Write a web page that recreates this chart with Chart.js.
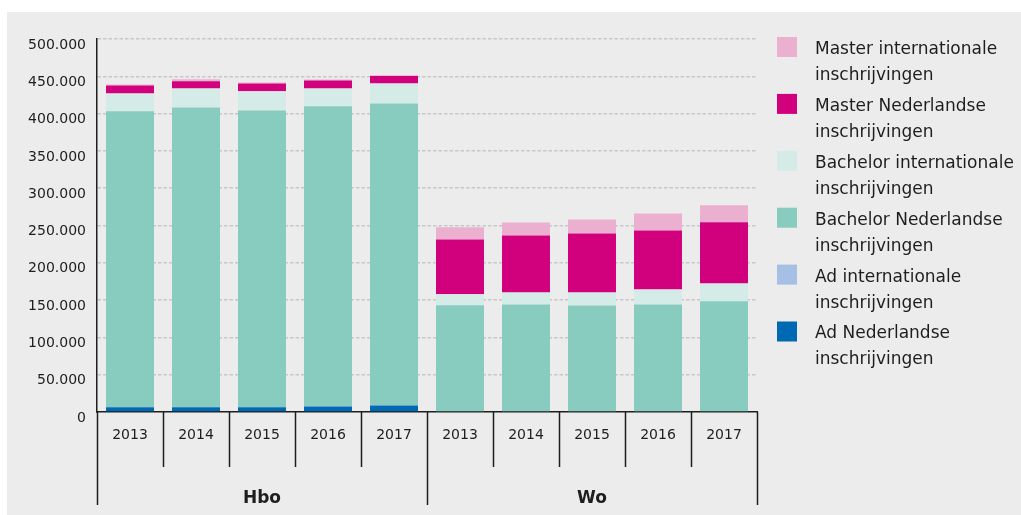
<!DOCTYPE html>
<html>
<head>
<meta charset="utf-8">
<script src="https://cdn.jsdelivr.net/npm/chart.js@4.4.1/dist/chart.umd.min.js"></script>
<style>
  html, body { margin: 0; padding: 0; background: #ffffff; }
  #wrap { position: relative; width: 1021px; height: 515px; }
</style>
</head>
<body>
<div id="wrap"><canvas id="chart" width="1021" height="515"></canvas></div>
<script>
// categories: year per bar, grouped by education type
const years = ['2013', '2014', '2015', '2016', '2017', '2013', '2014', '2015', '2016', '2017'];
const groups = ['Hbo', 'Wo'];

// series, bottom of the stack first
const adNL = [6300, 6300, 6300, 7500, 8800, 0, 0, 0, 0, 0];
const adIntl = [200, 200, 200, 200, 200, 0, 0, 0, 0, 0];
const bachelorNL = [396500, 401800, 397800, 402000, 404700, 143000, 144200, 142900, 144200, 148300];
const bachelorIntl = [24000, 25500, 25500, 24000, 26800, 14700, 16100, 17400, 20100, 24100];
const masterNL = [10700, 9400, 10700, 10700, 9800, 73700, 76400, 79000, 79000, 81800];
const masterIntl = [1300, 2700, 1300, 1300, 1000, 16100, 17400, 18800, 22800, 22800];

const seriesNames = [
  'Ad Nederlandse inschrijvingen',
  'Ad internationale inschrijvingen',
  'Bachelor Nederlandse inschrijvingen',
  'Bachelor internationale inschrijvingen',
  'Master Nederlandse inschrijvingen',
  'Master internationale inschrijvingen'
];
const seriesColors = ['#0069b4', '#a6bfe4', '#88cbbf', '#d5ebe7', '#d1007d', '#ebb0d0'];
const seriesData = [adNL, adIntl, bachelorNL, bachelorIntl, masterNL, masterIntl];

const yTicks = [0, 50000, 100000, 150000, 200000, 250000, 300000, 350000, 400000, 450000, 500000];

const FONT = "'DejaVu Sans', sans-serif";
const INK = '#1e1e1e';

function fmt(v) {
  return String(v).replace(/\B(?=(\d{3})+(?!\d))/g, '.');
}

const background = {
  id: 'background',
  beforeDraw(chart) {
    const ctx = chart.ctx;
    ctx.save();
    ctx.fillStyle = '#ececec';
    ctx.fillRect(7, 12, chart.width - 7, chart.height - 12);
    ctx.restore();
  }
};

// vertical separators under the x axis, placed from the category scale
const separators = {
  id: 'separators',
  afterDraw(chart) {
    const x = chart.scales.x;
    const ctx = chart.ctx;
    ctx.save();
    ctx.strokeStyle = INK;
    ctx.lineWidth = 1.5;
    for (let i = 0; i <= years.length; i++) {
      const px = Math.round(x.getPixelForValue(i - 0.5)) + 0.5;
      const long = i % 5 === 0;
      ctx.beginPath();
      ctx.moveTo(px, x.top);
      ctx.lineTo(px, x.top + (long ? 93 : 55));
      ctx.stroke();
    }
    ctx.restore();
  }
};

// legend on the right, two lines per entry, top of stack first
const sideLegend = {
  id: 'sideLegend',
  afterDraw(chart) {
    const ctx = chart.ctx;
    const sets = chart.data.datasets.slice().reverse();
    ctx.save();
    ctx.font = '17px ' + FONT;
    ctx.textBaseline = 'middle';
    sets.forEach((ds, i) => {
      const top = 37 + i * 56.9;
      ctx.fillStyle = ds.backgroundColor;
      ctx.fillRect(777, top, 20, 20);
      const cut = ds.label.lastIndexOf(' ');
      ctx.fillStyle = INK;
      ctx.fillText(ds.label.slice(0, cut), 815, top + 12.5);
      ctx.fillText(ds.label.slice(cut + 1), 815, top + 38.5);
    });
    ctx.restore();
  }
};

new Chart(document.getElementById('chart'), {
  type: 'bar',
  data: {
    labels: years,
    datasets: seriesData.map((d, i) => ({
      label: seriesNames[i],
      data: d,
      backgroundColor: seriesColors[i],
      borderWidth: 0,
      barPercentage: 0.727,
      categoryPercentage: 1
    }))
  },
  options: {
    responsive: false,
    animation: false,
    layout: { padding: { left: 0, right: 264, top: 39, bottom: 5 } },
    plugins: {
      legend: { display: false },
      tooltip: { enabled: false }
    },
    scales: {
      x: {
        stacked: true,
        grid: { display: false, drawTicks: false },
        border: { display: true, color: INK, width: 1.5 },
        ticks: { color: INK, font: { family: FONT, size: 14 }, padding: 15 },
        afterFit(s) { s.height = 48; }
      },
      x2: {
        type: 'category',
        position: 'bottom',
        labels: groups,
        offset: true,
        grid: { display: false, drawTicks: false },
        border: { display: false },
        ticks: { color: INK, font: { family: FONT, size: 17, weight: 'bold' }, padding: 28 },
        afterFit(s) { s.height = 50; }
      },
      y: {
        stacked: true,
        min: 0,
        max: 500000,
        afterBuildTicks(s) { s.ticks = yTicks.map(v => ({ value: v })); },
        grid: {
          drawTicks: false,
          lineWidth: 1.5,
          color: c => (c.tick && c.tick.value === 0) ? 'rgba(0,0,0,0)' : '#c8c8c8'
        },
        border: { display: true, color: INK, width: 1.5, dash: [3.5, 2] },
        ticks: {
          color: INK,
          font: { family: FONT, size: 14 },
          padding: 11,
          labelOffset: 6,
          callback: v => fmt(v)
        },
        afterFit(s) { s.width = 97; }
      }
    }
  },
  plugins: [background, separators, sideLegend]
});
</script>
</body>
</html>
